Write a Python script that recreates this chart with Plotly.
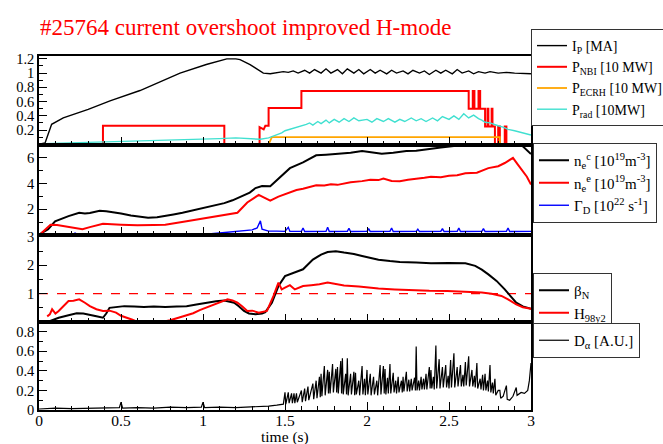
import plotly.graph_objects as go
from plotly.subplots import make_subplots

# ---------------- data ----------------
# Panel 1
ip_t = [0.0, 0.037, 0.077, 0.148, 0.30, 0.433, 0.616, 0.86, 1.02, 1.145, 1.20, 1.226, 1.287, 1.368, 1.41,
        1.45, 1.49, 1.52, 1.55, 1.58, 1.62, 1.65, 1.68, 1.72, 1.75, 1.78, 1.82, 1.85, 1.88, 1.92, 1.95,
        1.98, 2.02, 2.05, 2.08, 2.12, 2.15, 2.18, 2.22, 2.25, 2.28, 2.32, 2.35, 2.38, 2.42, 2.45, 2.48,
        2.52, 2.55, 2.58, 2.62, 2.65, 2.68, 2.72, 2.75, 2.8, 2.85, 2.9, 2.95, 3.0]
ip_v = [0.0, 0.02, 0.28, 0.37, 0.49, 0.61, 0.755, 1.0, 1.12, 1.2, 1.2, 1.19, 1.12, 1.0, 0.99,
        1.0, 1.02, 1.01, 1.03, 1.0, 1.04, 1.0, 1.05, 1.0, 1.06, 1.0, 1.05, 0.99, 1.06, 1.0, 1.05,
        0.99, 1.05, 1.0, 1.04, 0.99, 1.04, 1.0, 1.03, 0.99, 1.04, 1.0, 1.03, 0.98, 1.04, 1.0, 1.04,
        0.99, 1.05, 1.0, 1.03, 0.99, 1.02, 1.0, 1.02, 1.0, 1.01, 1.0, 1.0, 0.99]

nbi_t = [0.0, 0.39, 0.39, 1.13, 1.13, 1.345, 1.345, 1.37, 1.38, 1.40, 1.40, 1.60, 1.60, 2.62, 2.62,
         2.645, 2.645, 2.655, 2.655, 2.68, 2.68, 2.69, 2.69, 2.72, 2.72, 2.735, 2.735, 2.74, 2.74,
         2.76, 2.76, 2.765, 2.765, 2.78, 2.78, 2.80, 2.80, 2.81, 2.81, 2.84, 2.84, 2.85, 2.85, 3.0]
nbi_v = [0.0, 0.0, 0.26, 0.26, 0.0, 0.0, 0.24, 0.21, 0.26, 0.26, 0.51, 0.51, 0.75, 0.75, 0.5,
         0.5, 0.75, 0.75, 0.5, 0.5, 0.75, 0.75, 0.5, 0.5, 0.25, 0.25, 0.5, 0.5, 0.25,
         0.25, 0.5, 0.5, 0.25, 0.25, 0.0, 0.0, 0.25, 0.25, 0.0, 0.0, 0.25, 0.25, 0.0, 0.0]

ecrh_t = [0.0, 1.40, 1.42, 2.81, 2.81, 3.0]
ecrh_v = [0.0, 0.0, 0.1, 0.1, 0.0, 0.0]

prad_t = [0.03, 0.2, 0.4, 0.6, 0.8, 1.0, 1.1, 1.2, 1.25, 1.3, 1.35, 1.4, 1.45, 1.48, 1.5, 1.53, 1.56,
          1.6, 1.63, 1.65, 1.67, 1.7, 1.72, 1.75, 1.77, 1.8, 1.83, 1.86, 1.89, 1.92, 1.95, 2.0, 2.03,
          2.06, 2.1, 2.13, 2.17, 2.2, 2.23, 2.27, 2.3, 2.33, 2.36, 2.4, 2.43, 2.46, 2.5, 2.53, 2.56,
          2.59, 2.62, 2.65, 2.68, 2.7, 2.72, 2.75, 2.78, 2.8, 2.83, 2.86, 2.9, 2.95, 3.0]
prad_v = [0.01, 0.02, 0.03, 0.05, 0.06, 0.07, 0.08, 0.09, 0.085, 0.07, 0.07, 0.09, 0.13, 0.16, 0.19,
          0.21, 0.23, 0.25, 0.28, 0.3, 0.27, 0.32, 0.29, 0.34, 0.3, 0.35, 0.31, 0.36, 0.32, 0.37,
          0.33, 0.35, 0.31, 0.36, 0.32, 0.36, 0.31, 0.35, 0.32, 0.37, 0.33, 0.36, 0.32, 0.37, 0.33,
          0.39, 0.35, 0.4, 0.35, 0.43, 0.37, 0.41, 0.36, 0.34, 0.31, 0.3, 0.27, 0.26, 0.24, 0.21,
          0.19, 0.16, 0.13]

# Panel 2
nec_t = [0.01, 0.056, 0.098, 0.14, 0.18, 0.245, 0.28, 0.31, 0.37, 0.41, 0.455, 0.5, 0.56, 0.61, 0.665,
         0.72, 0.77, 0.82, 0.875, 0.95, 1.02, 1.08, 1.13, 1.18, 1.23, 1.285, 1.32, 1.36, 1.41, 1.46,
         1.53, 1.61, 1.69, 1.75, 1.82, 1.9, 1.97, 2.03, 2.09, 2.16, 2.24, 2.3, 2.39, 2.45, 2.53, 2.6,
         2.7, 2.81, 2.91, 2.95, 2.975, 3.0]
nec_v = [0.1, 0.45, 1.07, 1.3, 1.47, 1.73, 1.68, 1.72, 1.89, 1.85, 1.79, 1.68, 1.52, 1.42, 1.35,
         1.38, 1.47, 1.6, 1.73, 1.95, 2.19, 2.33, 2.48, 2.7, 2.99, 3.3, 3.65, 3.81, 3.79, 4.4,
         5.2, 5.65, 6.2, 6.25, 6.32, 6.4, 6.53, 6.45, 6.32, 6.4, 6.53, 6.55, 6.67, 6.8, 6.93, 7.0,
         7.07, 7.1, 7.1, 6.9, 6.6, 6.3]

nee_t = [0.014, 0.07, 0.11, 0.18, 0.265, 0.31, 0.39, 0.5, 0.6, 0.7, 0.77, 0.9, 1.02, 1.13, 1.21,
         1.27, 1.34, 1.37, 1.41, 1.46, 1.53, 1.57, 1.61, 1.65, 1.69, 1.74, 1.78, 1.82, 1.86, 1.9,
         1.97, 2.02, 2.07, 2.1, 2.15, 2.2, 2.25, 2.3, 2.35, 2.39, 2.45, 2.5, 2.55, 2.6, 2.67, 2.74,
         2.8, 2.84, 2.89, 2.92, 2.975, 3.0]
nee_v = [0.13, 0.8, 0.77, 0.61, 0.45, 0.61, 0.88, 0.8, 0.75, 0.78, 0.8, 1.07, 1.33, 1.52, 1.73,
         2.53, 3.12, 2.93, 2.67, 2.99, 3.33, 3.5, 3.6, 3.75, 3.87, 3.85, 3.95, 3.9, 4.0, 4.1,
         4.19, 4.3, 4.27, 4.4, 4.2, 4.19, 4.3, 4.35, 4.45, 4.53, 4.5, 4.6, 4.65, 4.8, 4.85, 5.2,
         5.35, 5.6, 6.0, 5.47, 4.53, 3.92]

gam_t = [0.0, 0.2, 0.22, 0.24, 0.4, 0.6, 1.0, 1.05, 1.1, 1.15, 1.2, 1.25, 1.3, 1.33, 1.35, 1.36, 1.4,
         1.45, 1.5, 1.52, 1.53, 1.6, 1.61, 1.62, 1.75, 1.76, 1.77, 1.88, 1.89, 1.9, 2.0, 2.01, 2.02,
         2.14, 2.15, 2.16, 2.3, 2.31, 2.32, 2.45, 2.46, 2.47, 2.55, 2.56, 2.57, 2.7, 2.71, 2.72,
         2.85, 2.86, 2.87, 3.0]
gam_v = [0.0, 0.01, 0.15, 0.01, 0.02, 0.03, 0.05, 0.1, 0.15, 0.2, 0.3, 0.35, 0.4, 0.55, 1.1, 0.45, 0.3,
         0.3, 0.28, 0.6, 0.28, 0.28, 0.55, 0.27, 0.28, 0.6, 0.27, 0.28, 0.52, 0.27, 0.28, 0.5, 0.27,
         0.28, 0.55, 0.27, 0.28, 0.45, 0.27, 0.28, 0.5, 0.27, 0.28, 0.55, 0.27, 0.28, 0.5, 0.27,
         0.28, 0.55, 0.27, 0.28]

# Panel 3
bn_t = [0.06, 0.09, 0.12, 0.18, 0.23, 0.27, 0.31, 0.35, 0.39, 0.41, 0.43, 0.52, 0.58, 0.64, 0.7, 0.77,
        0.84, 0.9, 0.96, 1.02, 1.08, 1.13, 1.19, 1.22, 1.25, 1.28, 1.32, 1.36, 1.38, 1.42, 1.46, 1.5,
        1.55, 1.61, 1.67, 1.72, 1.76, 1.81, 1.86, 1.92, 1.97, 2.02, 2.07, 2.14, 2.2, 2.3, 2.39, 2.5,
        2.6, 2.66, 2.7, 2.74, 2.79, 2.84, 2.88, 2.91, 2.95, 3.0]
bn_v = [0.02, 0.08, 0.15, 0.24, 0.31, 0.3, 0.24, 0.2, 0.15, 0.3, 0.5, 0.56, 0.55, 0.53, 0.55, 0.53,
        0.55, 0.56, 0.62, 0.68, 0.73, 0.76, 0.68, 0.55, 0.39, 0.3, 0.27, 0.3, 0.35, 0.68, 1.27, 1.62,
        1.72, 1.86, 2.2, 2.38, 2.47, 2.5, 2.45, 2.4, 2.33, 2.27, 2.2, 2.15, 2.12, 2.1, 2.07, 2.08,
        2.07, 1.98, 1.85, 1.68, 1.45, 1.15, 0.88, 0.68, 0.55, 0.47]

h98_t = [0.05, 0.066, 0.08, 0.1, 0.12, 0.15, 0.18, 0.21, 0.245, 0.28, 0.31, 0.35, 0.39, 0.43, 0.47,
         0.5, 0.54, 0.57, 0.6, 0.62, 0.74, 0.75, 0.8, 0.85, 0.9, 0.94, 0.98, 1.02, 1.08, 1.15, 1.18,
         1.21, 1.24, 1.27, 1.3, 1.34, 1.39, 1.43, 1.46, 1.48, 1.5, 1.53, 1.56, 1.61, 1.66, 1.71,
         1.76, 1.81, 1.86, 1.95, 2.07, 2.17, 2.28, 2.38, 2.49, 2.6, 2.7, 2.76, 2.82, 2.86, 2.91,
         2.95, 3.0]
h98_v = [0.2, 0.27, 0.45, 0.3, 0.39, 0.55, 0.74, 0.75, 0.8, 0.68, 0.56, 0.45, 0.39, 0.4, 0.33,
         0.22, 0.15, 0.08, 0.0, -0.05, -0.05, 0.0, 0.06, 0.15, 0.24, 0.31, 0.42, 0.51, 0.65, 0.8, 0.76,
         0.68, 0.55, 0.39, 0.4, 0.33, 0.39, 0.92, 1.39, 1.15, 1.21, 1.3, 1.15, 1.27, 1.3, 1.33,
         1.39, 1.33, 1.29, 1.25, 1.18, 1.15, 1.12, 1.1, 1.09, 1.07, 1.04, 1.0, 0.92, 0.8, 0.62,
         0.52, 0.47]

ref_t = [0.0, 3.0]
ref_v = [1.0, 1.0]

# Panel 4
da_t = [0.0, 0.05, 0.1, 0.2, 0.3, 0.4, 0.49, 0.5, 0.51, 0.6, 0.7, 0.8, 0.9, 0.99, 1.0, 1.01, 1.1, 1.2,
        1.3, 1.35, 1.4, 1.45, 1.49,
        1.50, 1.505, 1.52, 1.525, 1.54, 1.545, 1.555, 1.56, 1.57, 1.575, 1.60, 1.605, 1.62, 1.625,
        1.64, 1.645, 1.67, 1.675, 1.69, 1.695, 1.71, 1.715, 1.72, 1.725, 1.74, 1.745, 1.76, 1.765,
        1.77, 1.775, 1.79, 1.795, 1.81, 1.815, 1.82, 1.825, 1.84, 1.845, 1.85, 1.855, 1.87, 1.875,
        1.88, 1.885, 1.90, 1.905, 1.92, 1.925, 1.93, 1.935, 1.95, 1.955, 1.97, 1.975, 1.985, 1.99,
        2.0, 2.005, 2.02, 2.025, 2.04, 2.045, 2.06, 2.065, 2.08, 2.085, 2.10, 2.105, 2.11, 2.115,
        2.125, 2.13, 2.14, 2.145, 2.16, 2.165, 2.175, 2.18, 2.19, 2.195, 2.21, 2.215, 2.22, 2.225,
        2.24, 2.245, 2.255, 2.26, 2.27, 2.275, 2.29, 2.295, 2.30, 2.305, 2.315, 2.32, 2.33, 2.335,
        2.345, 2.35, 2.36, 2.365, 2.38, 2.385, 2.39, 2.395, 2.405, 2.41, 2.42, 2.425, 2.44, 2.445,
        2.46, 2.465, 2.48, 2.485, 2.495, 2.5, 2.51, 2.515, 2.53, 2.535, 2.55, 2.555, 2.57, 2.575,
        2.585, 2.59, 2.60, 2.605, 2.62, 2.625, 2.64, 2.645, 2.655, 2.66, 2.67, 2.675, 2.69, 2.695,
        2.705, 2.71, 2.72, 2.725, 2.735, 2.74, 2.75, 2.755, 2.765, 2.77, 2.78, 2.785, 2.80, 2.81,
        2.815, 2.83, 2.85, 2.855, 2.87, 2.89, 2.91, 2.915, 2.94, 2.96, 2.98, 2.99, 3.0]
da_v = [0.01, 0.015, 0.02, 0.015, 0.02, 0.02, 0.025, 0.08, 0.02, 0.025, 0.02, 0.03, 0.025, 0.03, 0.08,
        0.025, 0.03, 0.025, 0.03, 0.04, 0.04, 0.05, 0.06,
        0.18, 0.06, 0.18, 0.07, 0.17, 0.07, 0.17, 0.07, 0.17, 0.08, 0.2, 0.08, 0.22, 0.09,
        0.24, 0.1, 0.27, 0.11, 0.3, 0.12, 0.34, 0.13, 0.37, 0.14, 0.45, 0.15, 0.41, 0.17,
        0.39, 0.17, 0.47, 0.18, 0.42, 0.18, 0.44, 0.17, 0.5, 0.17, 0.53, 0.16, 0.37, 0.16,
        0.53, 0.15, 0.37, 0.16, 0.39, 0.15, 0.38, 0.16, 0.3, 0.15, 0.45, 0.16, 0.32, 0.15,
        0.41, 0.16, 0.37, 0.15, 0.34, 0.16, 0.3, 0.15, 0.46, 0.16, 0.45, 0.17, 0.42, 0.16,
        0.33, 0.17, 0.47, 0.17, 0.38, 0.18, 0.3, 0.17, 0.34, 0.18, 0.3, 0.18, 0.34, 0.19,
        0.39, 0.19, 0.31, 0.19, 0.32, 0.2, 0.33, 0.2, 0.65, 0.2, 0.3, 0.2, 0.34, 0.21,
        0.32, 0.21, 0.37, 0.21, 0.44, 0.22, 0.41, 0.22, 0.34, 0.21, 0.66, 0.22, 0.52, 0.22,
        0.44, 0.23, 0.46, 0.23, 0.35, 0.22, 0.51, 0.23, 0.58, 0.23, 0.44, 0.24, 0.46, 0.24,
        0.36, 0.24, 0.49, 0.25, 0.55, 0.24, 0.41, 0.24, 0.35, 0.23, 0.48, 0.22, 0.32, 0.21,
        0.36, 0.2, 0.37, 0.2, 0.3, 0.19, 0.46, 0.18, 0.28, 0.17, 0.32, 0.15, 0.2, 0.2,
        0.12, 0.14, 0.25, 0.11, 0.1, 0.14, 0.23, 0.15, 0.18, 0.17, 0.2, 0.3, 0.48]

x_ticks = [0, 0.5, 1, 1.5, 2, 2.5, 3]
x_ticktext = ["0", "0.5", "1", "1.5", "2", "2.5", "3"]
y1_ticks = [0.2, 0.4, 0.6, 0.8, 1, 1.2]
y1_text = ["0.2", "0.4", "0.6", "0.8", "1", "1.2"]
y2_ticks = [2, 4, 6]
y3_ticks = [1, 2, 3]
y4_ticks = [0, 0.2, 0.4, 0.6, 0.8]
y4_text = ["0", "0.2", "0.4", "0.6", "0.8"]

# ---------------- figure ----------------
SERIF = "Liberation Serif"
RED = "#ff0000"
fig = make_subplots(rows=4, cols=1, shared_xaxes=True, vertical_spacing=0)

def add(t, v, name, color, row, legend, width=1.4, show=True, dash=None):
    fig.add_trace(go.Scatter(x=t, y=v, mode="lines", name=name, showlegend=show, legend=legend,
                             line=dict(color=color, width=width, dash=dash)), row=row, col=1)

add(ip_t, ip_v, "I<sub>P</sub> [MA]", "black", 1, "legend")
add(nbi_t, nbi_v, "P<sub>NBI</sub> [10 MW]", RED, 1, "legend", width=2)
add(ecrh_t, ecrh_v, "P<sub>ECRH</sub> [10 MW]", "#ffa500", 1, "legend", width=1.8)
add(prad_t, prad_v, "P<sub>rad</sub> [10MW]", "#40e0d0", 1, "legend")

add(nec_t, nec_v, "n<sub>e</sub><sup>c</sup> [10<sup>19</sup>m<sup>-3</sup>]", "black", 2, "legend2", width=2)
add(nee_t, nee_v, "n<sub>e</sub><sup>e</sup> [10<sup>19</sup>m<sup>-3</sup>]", RED, 2, "legend2", width=2)
add(gam_t, gam_v, "Γ<sub>D</sub> [10<sup>22</sup> s<sup>-1</sup>]", "#0000ff", 2, "legend2")

add(ref_t, ref_v, "ref", RED, 3, "legend3", width=1.2, show=False, dash="dash")
add(bn_t, bn_v, "β<sub>N</sub>", "black", 3, "legend3", width=2)
add(h98_t, h98_v, "H<sub>98y2</sub>", RED, 3, "legend3", width=2)

add(da_t, da_v, "D<sub>α</sub> [A.U.]", "black", 4, "legend4", width=1.2)

W, H = 663, 444
ML, MR, MT, MB = 39, 132, 56, 34
ph = H - MT - MB
borders = [56, 145, 235, 322, 410]
def dom(top, bot):
    return [(H - MB - bot) / ph, (H - MB - top) / ph]

axfont = dict(family=SERIF, size=14.5, color="black")
common_x = dict(range=[0, 3], showline=True, linecolor="black", linewidth=1.5, mirror=True,
                ticks="inside", ticklen=8, tickwidth=1.3, tickcolor="black",
                tickmode="array", tickvals=x_ticks, ticktext=x_ticktext,
                minor=dict(ticks="inside", ticklen=4, tickwidth=1.2, tickcolor="black",
                           tickmode="linear", tick0=0, dtick=0.1, showgrid=False),
                showgrid=False, zeroline=False, tickfont=dict(family=SERIF, size=15.5, color="black"))
common_y = dict(showline=True, linecolor="black", linewidth=1.5, mirror=True,
                ticks="inside", ticklen=8, tickwidth=1.3, tickcolor="black",
                showgrid=False, zeroline=False, tickfont=axfont, tickmode="array")

fig.update_layout(
    width=W, height=H, autosize=False,
    margin=dict(l=ML, r=MR, t=MT, b=MB, pad=0, autoexpand=False),
    paper_bgcolor="white", plot_bgcolor="white",
    font=dict(family=SERIF, size=15, color="black"),
    title=dict(text="#25764 current overshoot improved H-mode",
               font=dict(family=SERIF, size=23, color=RED),
               x=40 / W, xref="container", xanchor="left",
               y=1 - 27 / H, yref="container", yanchor="middle"),
)
for i in range(1, 5):
    xa = dict(common_x)
    xa["domain"] = [0, 1]
    xa["showticklabels"] = (i == 4)
    if i == 4:
        xa["ticklabelstandoff"] = -4
    fig.update_layout(**{("xaxis" if i == 1 else f"xaxis{i}"): xa})

# x-axis title placed just below the tick labels
fig.add_annotation(text="time (s)", x=0.5, xref="paper", y=-(437 - 410) / ph, yref="paper",
                   xanchor="center", yanchor="middle", showarrow=False,
                   font=dict(family=SERIF, size=15.5, color="black"))

ya1 = dict(common_y, domain=dom(borders[0], borders[1]), range=[-0.01, 1.24],
           tickvals=y1_ticks, ticktext=y1_text,
           minor=dict(ticks="inside", ticklen=4, tickwidth=1.2, tickcolor="black",
                      tickmode="linear", tick0=0, dtick=0.1, showgrid=False))
ya2 = dict(common_y, domain=dom(borders[1], borders[2]), range=[0, 7.0],
           tickvals=y2_ticks, ticktext=[str(v) for v in y2_ticks],
           minor=dict(ticks="inside", ticklen=4, tickwidth=1.2, tickcolor="black",
                      tickmode="linear", tick0=0, dtick=1, showgrid=False))
ya3 = dict(common_y, domain=dom(borders[2], borders[3]), range=[0, 3.07],
           tickvals=y3_ticks, ticktext=[str(v) for v in y3_ticks],
           minor=dict(ticks="inside", ticklen=4, tickwidth=1.2, tickcolor="black",
                      tickmode="linear", tick0=0, dtick=0.5, showgrid=False))
ya4 = dict(common_y, domain=dom(borders[3], borders[4]), range=[0, 0.9],
           tickvals=y4_ticks, ticktext=y4_text,
           minor=dict(ticks="inside", ticklen=4, tickwidth=1.2, tickcolor="black",
                      tickmode="linear", tick0=0, dtick=0.1, showgrid=False))
fig.update_layout(yaxis=ya1, yaxis2=ya2, yaxis3=ya3, yaxis4=ya4)

def leg(x, y, size):
    return dict(x=x / W, y=1 - y / H, xref="container", yref="container",
                xanchor="left", yanchor="top", bordercolor="#333", borderwidth=1,
                bgcolor="white", itemwidth=30, tracegroupgap=0,
                font=dict(family=SERIF, size=size, color="black"))

fig.update_layout(legend=leg(531, 29, 14), legend2=leg(533, 143, 15),
                  legend3=leg(533, 273, 15), legend4=leg(533, 323, 15))

fig.write_html("out.html")
